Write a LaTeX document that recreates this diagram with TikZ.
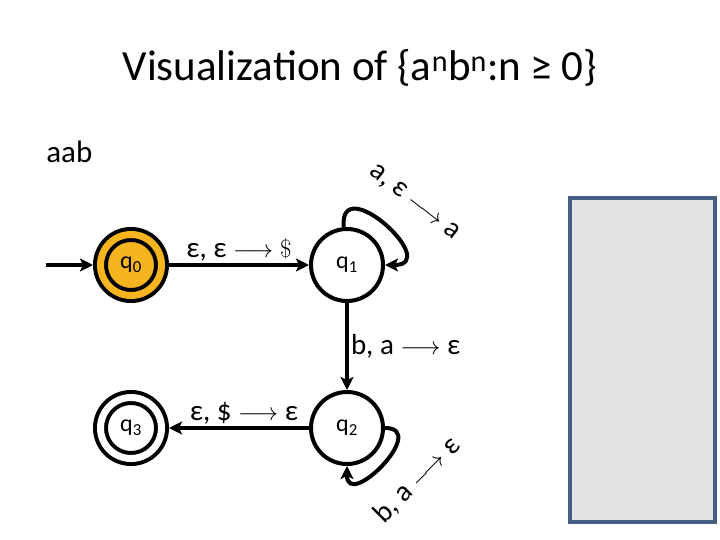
\documentclass[tikz,border=0pt]{standalone}
\usepackage{fontspec}
\setmainfont{Carlito}
\usetikzlibrary{arrows.meta,positioning}
\definecolor{stateorange}{RGB}{246,180,30}
\definecolor{stackfill}{RGB}{227,227,227}
\definecolor{stackedge}{RGB}{68,94,130}

\begin{document}
\begin{tikzpicture}[x=1pt, y=-1pt, line width=4pt,
    pdastate/.style={circle, draw, minimum size=72pt, inner sep=0pt, font=\fontsize{24}{28}\selectfont},
    acceptstate/.style={circle, draw, double, double distance=7pt, minimum size=61pt, inner sep=0pt, outer sep=7.5pt, font=\fontsize{24}{28}\selectfont},
    trans/.style={-{Stealth[length=13pt, width=13pt, inset=3pt]}},
    translabel/.style={font=\fontsize{29}{34}\selectfont, inner sep=2pt}]
        \useasboundingbox (0,0) rectangle (720,540);

        % Title and input
        \node[font=\fontsize{43}{50}\selectfont] (title) at (360,68) {Visualization of \{a\textsuperscript{n}b\textsuperscript{n}:n ≥ 0\}};
        \node[font=\fontsize{31}{36}\selectfont, anchor=west] (input) at (41,152) {aab};

        % States
        \node[acceptstate, fill=stateorange, double=stateorange] (q0) at (131,265) {q\textsubscript{0}};
        \node[pdastate] (q1) at (347,265) {q\textsubscript{1}};
        \node[pdastate] (q2) at (347,428) {q\textsubscript{2}};
        \node[acceptstate, double=white] (q3) at (131,428) {q\textsubscript{3}};
        \coordinate (start) at (46,265);

        % Stack
        \node[draw=stackedge, line width=3.5pt, fill=stackfill, minimum width=145pt, minimum height=324pt, inner sep=0pt] (stack) at (642.5,360) {};

        % Transitions
        \draw[trans] (start) -- (q0);
        \draw[trans] (q0) -- (q1) node[translabel, midway, above] {ε, ε $\longrightarrow \$$};
        \draw[trans] (q1) -- (q2) node[translabel, midway, right] {b, a $\longrightarrow$ ε};
        \draw[trans] (q2) -- (q3) node[translabel, midway, above, xshift=5pt] {ε, \$ $\longrightarrow$ ε};

        % Loops
        \draw[trans] (q1.95) to[out=95, in=0, min distance=58pt] (q1.0);
        \node[translabel, rotate=-38] (loop1) at (414,203) {a, ε $\longrightarrow$ a};
        \draw[trans] (q2.0) to[out=0, in=270, min distance=45pt] (q2.270);
        \node[translabel, rotate=45] (loop2) at (417,480) {b, a $\longrightarrow$ ε};
    \end{tikzpicture}
\end{document}
